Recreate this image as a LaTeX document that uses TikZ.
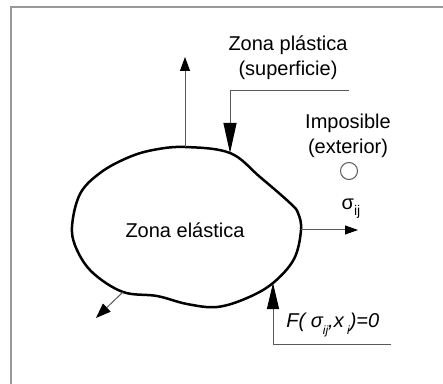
\documentclass[tikz,border=0pt]{standalone}
\usepackage{fontspec}
\setmainfont{Liberation Sans}
\usetikzlibrary{positioning,arrows.meta}

\begin{document}
\begin{tikzpicture}[x=0.5pt,y=-0.5pt,
    marco/.style={color=gray!80, line width=0.9},
    contorno/.style={color=black, line width=1.25},
    guia/.style={color=black!65, line width=0.5},
    rotulo/.style={font=\fontsize{10}{12.5}\selectfont, align=center, inner sep=0pt}]
\useasboundingbox (0,0) rectangle (443,384);

    \draw [marco] (11,384)--(11,7)--(443,7);

    % zona elastica
    \draw [contorno] plot[smooth cycle, tension=0.6] coordinates {
        (185,147) (230,153) (260,177) (290,203) (298,213) (301,230)
        (294,259) (273,283) (247,298) (217,307) (187,304) (157,296)
        (123,292) (93,273) (77,250) (72,227) (80,194) (100,173)
        (127,158) (153,150)};
    \node [rotulo] (elastica) at (185,230) {Zona elástica};

    \coordinate (arriba) at (185,147);
    \coordinate (plast) at (230,153);
    \coordinate (derecha) at (301,230);
    \coordinate (abajo) at (273,283);
    \coordinate (izq) at (123,292);

    \coordinate (arribafin) at (185,57);
    \coordinate (sigmafin) at (358,230);
    \coordinate (izqfin) at (96,318);
    \coordinate (plastini) at (349,91);
    \coordinate (fini) at (391,344);

    % textos
    \node [rotulo] (plastica) at (288,58) {Zona plástica\\(superficie)};
    \node [rotulo] (imposible) at (348,136) {Imposible\\(exterior)};
    \node [circle, draw=black!65, line width=0.5, minimum size=8.5pt, inner sep=0pt] (punto) at (349,171) {};
    \node [rotulo] (sigma) at (351,209) {σ\raisebox{-0.6ex}{\fontsize{7}{8}\selectfont ij}};
    \node [rotulo, anchor=west] (fluencia) at (286,325) {\textit{F( σ\raisebox{-0.6ex}{\fontsize{6}{7}\selectfont ij},x\raisebox{-0.6ex}{\fontsize{6}{7}\selectfont\ i})=0}};

    % flechas
    \draw [guia, -{Triangle[length=7pt, width=5pt, color=black]}] (arriba)--(arribafin);
    \draw [guia, -{Triangle[length=15pt, width=6.5pt, color=black]}] (plastini)-|(plast);
    \draw [guia, -{Triangle[length=6.5pt, width=4.5pt, color=black]}] (derecha)--(sigmafin);
    \draw [guia, -{Triangle[length=13pt, width=6pt, color=black]}] (fini)-|(abajo);
    \draw [guia, -{Triangle[length=7.5pt, width=5.5pt, color=black]}] (izq)--(izqfin);

    \end{tikzpicture}
\end{document}
